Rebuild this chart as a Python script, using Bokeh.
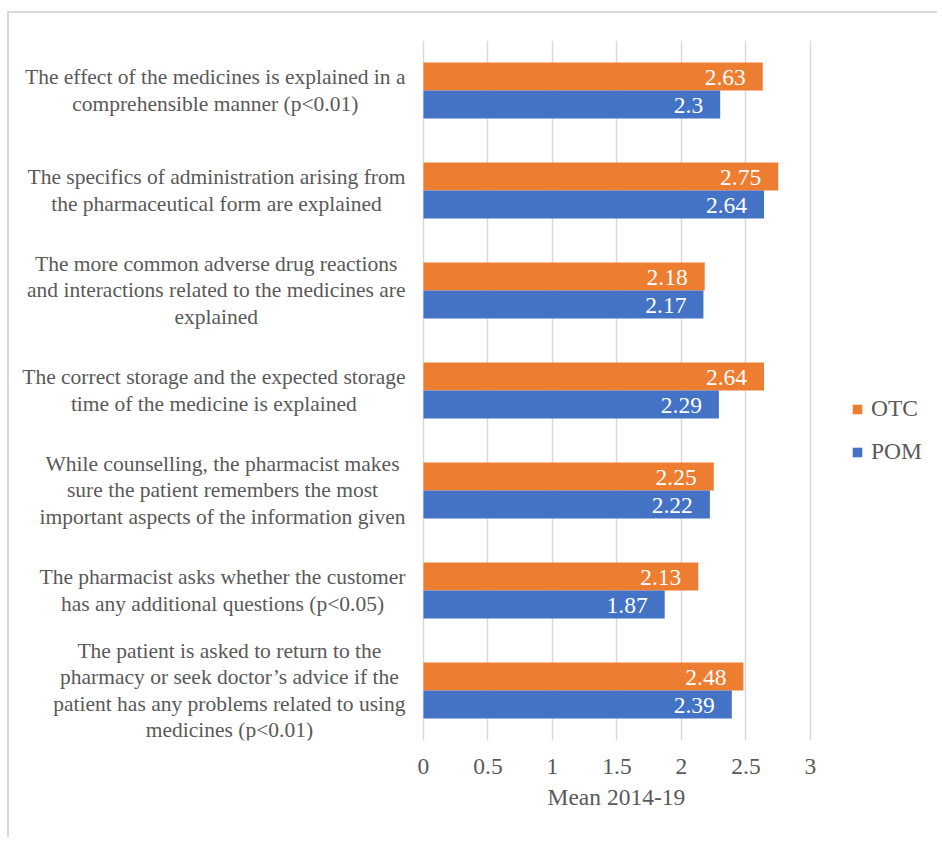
from bokeh.plotting import figure
from bokeh.models import FactorRange, Range1d, FixedTicker, Legend, LegendItem, ColumnDataSource, Label, Title
from bokeh.transform import dodge
from bokeh.core.properties import value
from bokeh.embed import file_html
from bokeh.resources import INLINE

categories = [
    "The effect of the medicines is explained in a\ncomprehensible manner (p<0.01)",
    "The specifics of administration arising from\nthe pharmaceutical form are explained",
    "The more common adverse drug reactions\nand interactions related to the medicines are\nexplained",
    "The correct storage and the expected storage\ntime of the medicine is explained",
    "While counselling, the pharmacist makes\nsure the patient remembers the most\nimportant aspects of the information given",
    "The pharmacist asks whether the customer\nhas any additional questions (p<0.05)",
    "The patient is asked to return to the\npharmacy or seek doctor\u2019s advice if the\npatient has any problems related to using\nmedicines (p<0.01)",
]
otc = [2.63, 2.75, 2.18, 2.64, 2.25, 2.13, 2.48]
pom = [2.3, 2.64, 2.17, 2.29, 2.22, 1.87, 2.39]
x_ticks = [0, 0.5, 1, 1.5, 2, 2.5, 3]
x_tick_labels = ["0", "0.5", "1", "1.5", "2", "2.5", "3"]
x_title = "Mean 2014-19"
series_names = ["OTC", "POM"]
colors = ["#ED7D31", "#4472C4"]

FONT = "Liberation Serif"
GREY = "#595959"

src = ColumnDataSource(dict(
    cat=categories, otc=otc, pom=pom,
    otc_lbl=[f"{v:g}" for v in otc], pom_lbl=[f"{v:g}" for v in pom],
))

factors = list(reversed(categories))
# the plotting frame spans the whole canvas width so that the category texts and
# the legend (annotations) are not clipped; the value axis is bounded to 0..3
p = figure(
    width=930, height=826,
    y_range=FactorRange(factors=factors),
    x_range=Range1d(-3.209, 4.0),
    output_backend="svg", toolbar_location=None,
    min_border_left=0, min_border_right=0, min_border_top=27, min_border_bottom=99,
)
p.margin = (11, 0, 0, 7)
p.styles = {"border-left": "2px solid #d9d9d9", "border-top": "2px solid #d9d9d9"}
p.outline_line_color = None
p.yaxis.visible = False

bh = 0.28
r1 = p.hbar(y=dodge("cat", bh / 2, range=p.y_range), right="otc", height=bh, left=0,
            source=src, color=colors[0], line_color=None)
r2 = p.hbar(y=dodge("cat", -bh / 2, range=p.y_range), right="pom", height=bh, left=0,
            source=src, color=colors[1], line_color=None)

for col, off in (("otc", bh / 2), ("pom", -bh / 2)):
    p.text(x=col, y=dodge("cat", off, range=p.y_range), text=col + "_lbl", source=src,
           text_align="right", text_baseline="middle", x_offset=-17, y_offset=1,
           text_color="white", text_font=value(FONT), text_font_size="23.5px")

p.xaxis.bounds = (x_ticks[0], x_ticks[-1])
p.xaxis.ticker = FixedTicker(ticks=x_ticks)
p.xaxis.major_label_overrides = {t: l for t, l in zip(x_ticks, x_tick_labels)}
p.xaxis.axis_line_color = None
p.xaxis.major_tick_line_color = None
p.xaxis.minor_tick_line_color = None
p.xaxis.major_label_text_font = FONT
p.xaxis.major_label_text_font_size = "23.5px"
p.xaxis.major_label_text_color = GREY
p.xaxis.major_label_standoff = 12

# axis title, centred under the 0..3 part of the value axis
p.add_layout(Title(text=x_title, align="left", offset=538, standoff=10,
                   text_font=FONT, text_font_style="normal", text_font_size="23.5px",
                   text_color=GREY), "below")

for cat in categories:
    pos = factors.index(cat) + 0.5  # synthetic coordinate of the factor's centre
    p.add_layout(Label(x=396, x_units="screen", y=pos, text=cat,
                       anchor="center_right", text_align="center",
                       text_font=FONT, text_font_size="21.5px", text_color=GREY,
                       text_line_height=1.1))

p.xgrid.grid_line_color = "#d9d9d9"
p.xgrid.grid_line_width = 1.5
p.ygrid.grid_line_color = None

legend = Legend(items=[LegendItem(label=series_names[0], renderers=[r1]),
                       LegendItem(label=series_names[1], renderers=[r2])],
                location=(842, 275))
legend.label_text_font = FONT
legend.label_text_font_size = "23.5px"
legend.label_text_color = GREY
legend.label_height = 22
legend.glyph_width = 12
legend.glyph_height = 12
legend.label_standoff = 8
legend.spacing = 16
legend.padding = 0
legend.margin = 0
legend.border_line_color = None
legend.background_fill_alpha = 0
p.add_layout(legend, "center")

open("out.html", "w").write(file_html(p, INLINE))
